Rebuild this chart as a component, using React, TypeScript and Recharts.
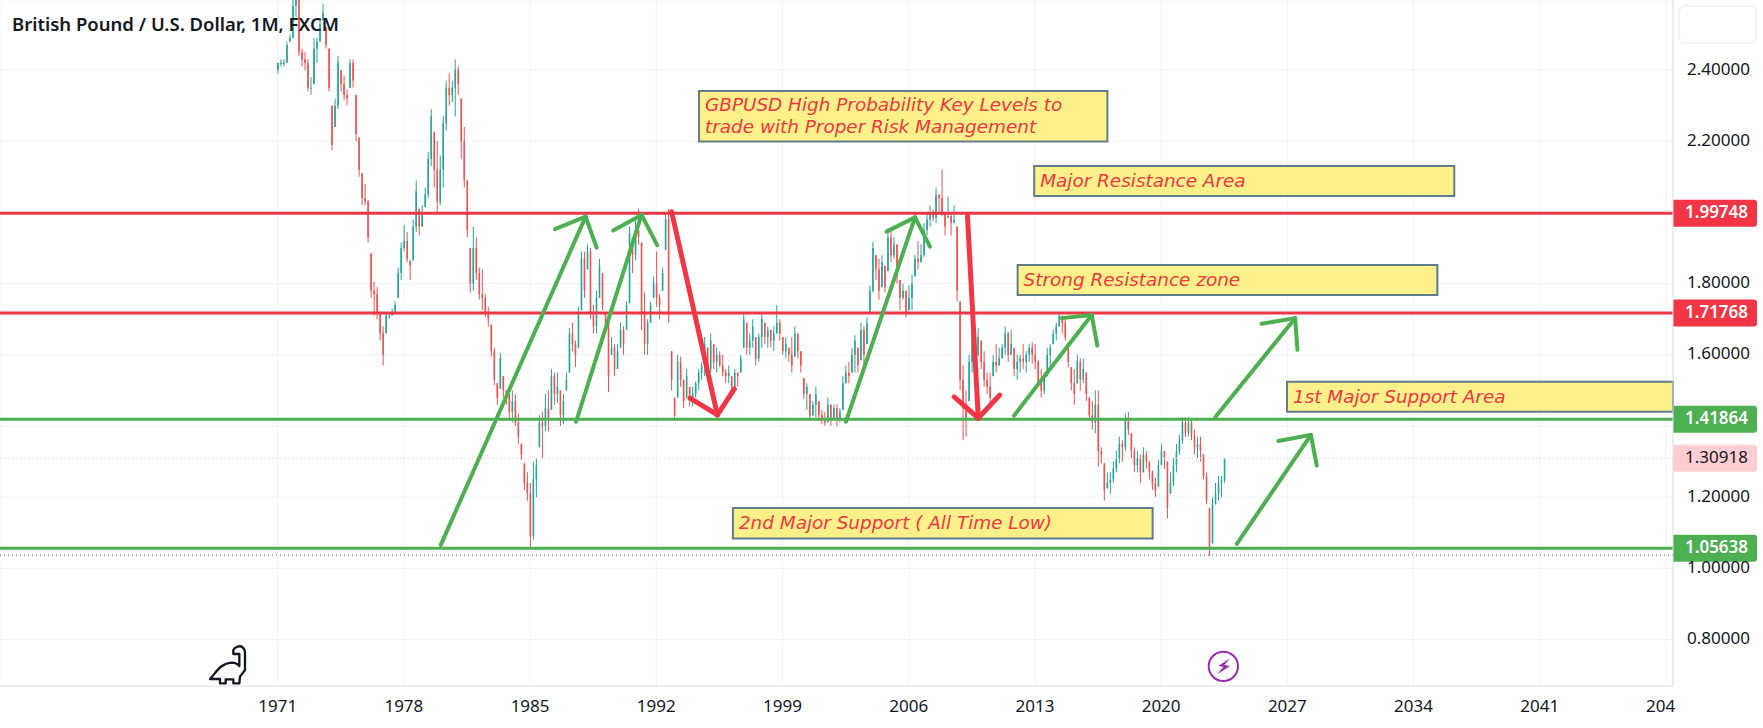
import React from 'react';
import {
  ComposedChart,
  Bar,
  XAxis,
  YAxis,
  CartesianGrid,
  ReferenceLine,
  ReferenceArea
} from 'recharts';

const FONT = '"Noto Sans", sans-serif';
const NOTE_FONT = '"DejaVu Sans", sans-serif';
const RED = '#f23645';
const GREEN = '#4caf50';

const firstYear = 1971;
const candlesPerYear = 6;

const highs = [
  2.42, 2.43, 2.43, 2.48, 2.5, 2.6,
  2.64, 2.62, 2.46, 2.45, 2.43, 2.38,
  2.49, 2.49, 2.54, 2.585, 2.52, 2.46,
  2.3, 2.32, 2.44, 2.4, 2.385, 2.345,
  2.43, 2.43, 2.33, 2.21, 2.11, 2.08,
  2.035, 1.885, 1.805, 1.79, 1.72, 1.68,
  1.72, 1.72, 1.73, 1.75, 1.845, 1.915,
  1.965, 1.945, 1.865, 1.98, 2.09, 2.01,
  2.02, 2.07, 2.17, 2.29, 2.225, 2.2,
  2.16, 2.27, 2.37, 2.39, 2.37, 2.43,
  2.41, 2.32, 2.24, 2.09, 1.9, 1.96,
  1.93, 1.845, 1.84, 1.77, 1.735, 1.685,
  1.62, 1.52, 1.605, 1.54, 1.5, 1.49,
  1.5, 1.49, 1.435, 1.35, 1.295, 1.27,
  1.24, 1.3, 1.31, 1.43, 1.44, 1.49,
  1.5, 1.56, 1.55, 1.55, 1.5, 1.49,
  1.55, 1.675, 1.69, 1.64, 1.735, 1.89,
  1.89, 1.91, 1.9, 1.74, 1.78, 1.87,
  1.83, 1.72, 1.69, 1.65, 1.63, 1.63,
  1.69, 1.68, 1.75, 1.96, 1.93, 1.98,
  2.01, 1.915, 1.775, 1.7, 1.75, 1.82,
  1.89, 1.77, 1.845, 2.0, 2.01, 1.61,
  1.48, 1.6, 1.595, 1.53, 1.56, 1.51,
  1.51, 1.525, 1.56, 1.58, 1.65, 1.62,
  1.66, 1.63, 1.62, 1.61, 1.6, 1.56,
  1.57, 1.54, 1.56, 1.55, 1.6, 1.72,
  1.69, 1.66, 1.7, 1.65, 1.66, 1.72,
  1.69, 1.68, 1.67, 1.68, 1.74, 1.7,
  1.65, 1.65, 1.62, 1.65, 1.68, 1.66,
  1.61, 1.535, 1.52, 1.49, 1.47, 1.51,
  1.47, 1.445, 1.44, 1.48, 1.46, 1.46,
  1.46, 1.45, 1.54, 1.57, 1.58, 1.62,
  1.655, 1.62, 1.69, 1.68, 1.705, 1.795,
  1.917, 1.88, 1.87, 1.88, 1.85, 1.955,
  1.95, 1.93, 1.91, 1.81, 1.8, 1.78,
  1.795, 1.825, 1.88, 1.92, 1.91, 1.97,
  1.995, 2.02, 2.01, 2.07, 2.05, 2.12,
  2.0, 2.045, 2.0, 2.02, 1.96, 1.75,
  1.57, 1.5, 1.6, 1.68, 1.68, 1.675,
  1.64, 1.61, 1.55, 1.55, 1.6, 1.63,
  1.62, 1.63, 1.68, 1.665, 1.67, 1.62,
  1.6, 1.6, 1.63, 1.61, 1.63, 1.635,
  1.63, 1.585, 1.56, 1.55, 1.62, 1.63,
  1.67, 1.69, 1.72, 1.71, 1.7, 1.62,
  1.565, 1.56, 1.6, 1.59, 1.59, 1.55,
  1.48, 1.47, 1.5, 1.5, 1.34, 1.295,
  1.27, 1.27, 1.3, 1.33, 1.37, 1.36,
  1.435, 1.44, 1.38, 1.34, 1.33, 1.32,
  1.34, 1.33, 1.3, 1.275, 1.255, 1.305,
  1.35, 1.33, 1.3, 1.27, 1.31, 1.35,
  1.375, 1.425, 1.425, 1.425, 1.42, 1.39,
  1.37, 1.37, 1.32, 1.27, 1.17, 1.2,
  1.24, 1.26, 1.26, 1.31
];

const lows = [
  2.39, 2.41, 2.41, 2.42, 2.48, 2.49,
  2.55, 2.44, 2.41, 2.4, 2.34, 2.33,
  2.36, 2.42, 2.48, 2.54, 2.46, 2.34,
  2.175, 2.24, 2.29, 2.34, 2.315, 2.3,
  2.35, 2.35, 2.2, 2.1, 2.02, 2.02,
  1.915, 1.76, 1.71, 1.7, 1.64, 1.57,
  1.66, 1.7, 1.71, 1.72, 1.76, 1.81,
  1.89, 1.86, 1.81, 1.865, 1.945, 1.935,
  1.96, 2.015, 2.04, 2.13, 2.07, 2.0,
  2.02, 2.07, 2.23, 2.3, 2.31, 2.27,
  2.33, 2.15, 2.07, 1.93, 1.775, 1.78,
  1.81, 1.755, 1.725, 1.705, 1.68, 1.595,
  1.515, 1.46, 1.505, 1.48, 1.46, 1.415,
  1.41, 1.4, 1.35, 1.305, 1.22, 1.19,
  1.056, 1.08, 1.2, 1.34, 1.31, 1.385,
  1.385, 1.445, 1.46, 1.465, 1.4, 1.405,
  1.5, 1.55, 1.61, 1.565, 1.62, 1.725,
  1.76, 1.84, 1.7, 1.66, 1.66, 1.76,
  1.725, 1.675, 1.495, 1.6, 1.54, 1.56,
  1.62, 1.6, 1.67, 1.745, 1.83, 1.865,
  1.91, 1.67, 1.6, 1.6, 1.69, 1.76,
  1.735, 1.7, 1.78, 1.895, 1.69, 1.5,
  1.415, 1.48, 1.51, 1.45, 1.48, 1.455,
  1.455, 1.48, 1.5, 1.53, 1.54, 1.55,
  1.55, 1.56, 1.55, 1.565, 1.54, 1.52,
  1.52, 1.495, 1.5, 1.51, 1.55, 1.62,
  1.6, 1.6, 1.62, 1.57, 1.58, 1.62,
  1.63, 1.62, 1.62, 1.61, 1.66, 1.64,
  1.6, 1.59, 1.58, 1.55, 1.595, 1.59,
  1.55, 1.475, 1.445, 1.415, 1.43, 1.425,
  1.415, 1.405, 1.4, 1.41, 1.4, 1.42,
  1.4, 1.41, 1.445, 1.52, 1.52, 1.55,
  1.55, 1.55, 1.585, 1.565, 1.63, 1.72,
  1.775, 1.81, 1.755, 1.79, 1.775, 1.835,
  1.86, 1.87, 1.8, 1.725, 1.755, 1.705,
  1.725, 1.725, 1.82, 1.84, 1.86, 1.875,
  1.935, 1.96, 1.975, 1.97, 2.0, 1.99,
  1.935, 1.985, 1.935, 1.97, 1.75, 1.5,
  1.36, 1.37, 1.47, 1.55, 1.58, 1.595,
  1.56, 1.51, 1.49, 1.455, 1.54, 1.55,
  1.57, 1.59, 1.6, 1.58, 1.6, 1.54,
  1.53, 1.55, 1.56, 1.55, 1.58, 1.575,
  1.56, 1.51, 1.48, 1.49, 1.54, 1.56,
  1.63, 1.64, 1.68, 1.66, 1.64, 1.565,
  1.5, 1.46, 1.52, 1.5, 1.52, 1.47,
  1.415, 1.39, 1.38, 1.285, 1.295, 1.19,
  1.225, 1.21, 1.24, 1.27, 1.295, 1.3,
  1.33, 1.375, 1.31, 1.27, 1.27, 1.24,
  1.27, 1.28, 1.25, 1.22, 1.2, 1.23,
  1.29, 1.28, 1.14, 1.21, 1.23, 1.27,
  1.32, 1.35, 1.37, 1.37, 1.36, 1.32,
  1.31, 1.3, 1.25, 1.18, 1.035, 1.07,
  1.18, 1.19, 1.2, 1.24
];

const closes = [
  2.42, 2.42, 2.42, 2.47, 2.49, 2.58,
  2.61, 2.45, 2.43, 2.42, 2.35, 2.35,
  2.46, 2.48, 2.53, 2.56, 2.47, 2.35,
  2.19, 2.3, 2.42, 2.36, 2.33, 2.32,
  2.42, 2.37, 2.22, 2.12, 2.04, 2.03,
  1.93, 1.78, 1.77, 1.72, 1.66, 1.6,
  1.71, 1.71, 1.72, 1.74, 1.83, 1.9,
  1.92, 1.87, 1.85, 1.96, 2.06, 1.96,
  2.0, 2.05, 2.15, 2.27, 2.12, 2.03,
  2.12, 2.25, 2.35, 2.33, 2.35, 2.4,
  2.36, 2.2, 2.09, 1.95, 1.8, 1.9,
  1.83, 1.77, 1.76, 1.72, 1.7, 1.61,
  1.53, 1.48, 1.59, 1.5, 1.49, 1.44,
  1.47, 1.41, 1.37, 1.32, 1.24, 1.21,
  1.09, 1.25, 1.29, 1.41, 1.4, 1.45,
  1.42, 1.54, 1.49, 1.51, 1.43, 1.47,
  1.53, 1.66, 1.63, 1.6, 1.72, 1.87,
  1.78, 1.89, 1.72, 1.68, 1.76, 1.85,
  1.74, 1.69, 1.54, 1.62, 1.56, 1.61,
  1.67, 1.63, 1.74, 1.94, 1.88, 1.95,
  1.93, 1.72, 1.63, 1.69, 1.74, 1.8,
  1.76, 1.74, 1.83, 1.98, 1.71, 1.53,
  1.43, 1.58, 1.53, 1.47, 1.54, 1.47,
  1.49, 1.52, 1.55, 1.57, 1.63, 1.56,
  1.64, 1.58, 1.6, 1.57, 1.55, 1.54,
  1.55, 1.51, 1.55, 1.54, 1.59, 1.7,
  1.62, 1.64, 1.68, 1.59, 1.65, 1.7,
  1.65, 1.67, 1.64, 1.66, 1.69, 1.66,
  1.61, 1.63, 1.6, 1.57, 1.66, 1.61,
  1.57, 1.49, 1.51, 1.43, 1.46, 1.49,
  1.43, 1.42, 1.41, 1.46, 1.42, 1.45,
  1.42, 1.44, 1.52, 1.55, 1.54, 1.6,
  1.64, 1.57, 1.67, 1.6, 1.69, 1.78,
  1.9, 1.84, 1.78, 1.86, 1.79, 1.93,
  1.88, 1.91, 1.82, 1.76, 1.78, 1.72,
  1.76, 1.8, 1.87, 1.86, 1.88, 1.95,
  1.98, 2.0, 1.985, 2.05, 2.04, 2.0,
  1.96, 1.99, 1.97, 1.98, 1.78, 1.53,
  1.45, 1.42, 1.58, 1.66, 1.6, 1.65,
  1.58, 1.53, 1.51, 1.48, 1.58, 1.57,
  1.59, 1.62, 1.66, 1.6, 1.63, 1.56,
  1.58, 1.59, 1.58, 1.6, 1.62, 1.6,
  1.58, 1.52, 1.5, 1.53, 1.6, 1.62,
  1.66, 1.68, 1.71, 1.69, 1.65, 1.58,
  1.52, 1.49, 1.58, 1.53, 1.56, 1.49,
  1.43, 1.41, 1.46, 1.33, 1.32, 1.22,
  1.24, 1.25, 1.28, 1.31, 1.35, 1.34,
  1.42, 1.39, 1.33, 1.29, 1.31, 1.27,
  1.32, 1.3, 1.27, 1.24, 1.22, 1.29,
  1.33, 1.31, 1.17, 1.24, 1.29, 1.33,
  1.36, 1.41, 1.38, 1.41, 1.37, 1.34,
  1.35, 1.33, 1.26, 1.19, 1.06, 1.18,
  1.21, 1.24, 1.25, 1.30918
];

const timeTicks = [1971, 1978, 1985, 1992, 1999, 2006, 2013, 2020, 2027, 2034, 2041, 2048];
const priceTicks = [0.8, 1.0, 1.2, 1.4, 1.6, 1.8, 2.0, 2.2, 2.4];
const hiddenPriceTicks = [1.4, 2.0]; // sit behind the level tags

const redLevels = [1.99748, 1.71768];
const greenLevels = [1.41864, 1.05638];
const lastPrice = 1.30918;
const lowPrice = 1.0376;

// startYear, startPrice, tipYear, tipPrice, leftYear, leftPrice, rightYear, rightPrice
const greenArrows = [
  [1980.05, 1.066, 1988.08, 1.988, 1986.38, 1.953, 1988.69, 1.901],
  [1987.55, 1.412, 1991.18, 1.993, 1989.61, 1.949, 1992.05, 1.908],
  [2002.52, 1.412, 2006.35, 1.986, 2004.77, 1.946, 2007.18, 1.904],
  [2011.84, 1.429, 2016.15, 1.712, 2014.48, 1.703, 2016.46, 1.626],
  [2023.01, 1.425, 2027.43, 1.703, 2025.57, 1.687, 2027.56, 1.614],
  [2024.2, 1.069, 2028.31, 1.375, 2026.5, 1.358, 2028.63, 1.289]
];
const redArrows = [
  [1992.85, 2.002, 1995.39, 1.431, 1993.87, 1.478, 1996.33, 1.504],
  [2009.26, 1.99, 2009.86, 1.422, 2008.52, 1.482, 2011.05, 1.487]
];

// x1, x2, y1, y2 in year / price, then the text lines
const noteBoxes = [
  { x1: 1994.37, x2: 2017.02, y1: 2.199, y2: 2.341, lines: ['GBPUSD High Probability Key Levels to', 'trade with Proper Risk Management'] },
  { x1: 2012.96, x2: 2036.26, y1: 2.046, y2: 2.13, lines: ['Major Resistance Area'] },
  { x1: 2012.04, x2: 2035.32, y1: 1.768, y2: 1.852, lines: ['Strong Resistance zone'] },
  { x1: 2026.98, x2: 2048.39, y1: 1.44, y2: 1.524, lines: ['1st Major Support Area'] },
  { x1: 1996.25, x2: 2019.53, y1: 1.084, y2: 1.17, lines: ['2nd Major Support ( All Time Low)'] }
];

const candles = closes.map((close, i) => ({
  time: firstYear + i / candlesPerYear,
  range: [lows[i], highs[i]],
  open: i > 0 ? closes[i - 1] : 2.4,
  high: highs[i],
  low: lows[i],
  close
}));

const Candle = (props: any) => {
  const { x, y, width, height, payload } = props;
  const perUnit = height / (payload.high - payload.low);
  const top = y + (payload.high - Math.max(payload.open, payload.close)) * perUnit;
  const bottom = y + (payload.high - Math.min(payload.open, payload.close)) * perUnit;
  const color = payload.close >= payload.open ? '#26a69a' : '#ef5350';
  return (
    <g>
      <rect x={x + width / 2 - 0.5} y={y} width={1} height={height} fill={color} />
      <rect x={x} y={Math.max(y, top)} width={width} height={Math.max(1, Math.min(bottom, y + height) - Math.max(y, top))} fill={color} />
    </g>
  );
};

const TimeTick = ({ x, y, payload }: any) => {
  const clipped = payload.value === 2048;
  return (
    <text
      x={clipped ? x - 20 : x}
      y={y + 13}
      textAnchor={clipped ? 'start' : 'middle'}
      dominantBaseline="middle"
      fontFamily={FONT}
      fontSize={17}
      fill="#131722"
    >
      {clipped ? '204' : payload.value}
    </text>
  );
};

const PriceTick = ({ x, y, payload }: any) => {
  if (hiddenPriceTicks.includes(payload.value)) return null;
  return (
    <text x={x + 6} y={y} dominantBaseline="middle" fontFamily={FONT} fontSize={17} fill="#131722">
      {payload.value.toFixed(5)}
    </text>
  );
};

const PriceTag = ({ viewBox, value, fill, color, weight }: any) => {
  const left = viewBox.x + viewBox.width;
  return (
    <g>
      <path
        d={`M${left} ${viewBox.y - 13.5}h81a3 3 0 0 1 3 3v21a3 3 0 0 1 -3 3h-81z`}
        fill={fill}
      />
      <text
        x={left + 12}
        y={viewBox.y}
        dominantBaseline="middle"
        fontFamily={FONT}
        fontSize={17}
        fontWeight={weight}
        fill={color}
      >
        {value.toFixed(5)}
      </text>
    </g>
  );
};

const BoxText = ({ viewBox, lines }: any) => {
  const lineHeight = 22;
  const firstY = viewBox.y + viewBox.height / 2 + 1 - ((lines.length - 1) * lineHeight) / 2;
  return (
    <text fontFamily={NOTE_FONT} fontSize={18.4} fontStyle="italic" fill={RED}>
      {lines.map((line: string, i: number) => (
        <tspan key={i} x={viewBox.x + 6} y={firstY + i * lineHeight} dominantBaseline="middle">
          {line}
        </tspan>
      ))}
    </text>
  );
};

const arrowSegments = (arrow: number[], color: string, width: number, key: string) => {
  const [sx, sy, tx, ty, lx, ly, rx, ry] = arrow;
  const ends = [[sx, sy], [lx, ly], [rx, ry]];
  return ends.map(([ex, ey], i) => (
    <ReferenceLine
      key={`${key}-${i}`}
      segment={[{ x: ex, y: ey }, { x: tx, y: ty }]}
      stroke={color}
      strokeWidth={width}
      strokeLinecap="round"
    />
  ));
};

export default function App() {
  return (
    <div style={{ position: 'absolute', left: 0, top: 0, width: 1763, height: 728, background: '#fff', overflow: 'hidden' }}>
      <ComposedChart width={1763} height={728} data={candles} margin={{ top: 0, right: 0, bottom: 0, left: 0 }}>
        <CartesianGrid stroke="#f0f3fa" strokeWidth={1} />
        <XAxis
          dataKey="time"
          type="number"
          domain={[1955.6, 2048.39]}
          ticks={timeTicks}
          allowDataOverflow
          height={42}
          tick={<TimeTick />}
          tickLine={false}
          axisLine={{ stroke: '#e0e3eb' }}
        />
        <YAxis
          orientation="right"
          type="number"
          domain={[0.6697, 2.5966]}
          ticks={priceTicks}
          allowDataOverflow
          width={90}
          tick={<PriceTick />}
          tickLine={false}
          axisLine={{ stroke: '#e0e3eb' }}
        />
        <Bar dataKey="range" barSize={1.6} shape={<Candle />} isAnimationActive={false} />

        <ReferenceLine y={lowPrice} stroke="#555" strokeDasharray="1 3" />
        <ReferenceLine
          y={lastPrice}
          stroke="#f7c6d0"
          strokeDasharray="1 3"
          label={<PriceTag value={lastPrice} fill="#ffcdd2" color="#131722" weight={400} />}
        />
        {redLevels.map((v) => (
          <ReferenceLine
            key={v}
            y={v}
            stroke={RED}
            strokeWidth={3}
            label={<PriceTag value={v} fill={RED} color="#fff" weight={600} />}
          />
        ))}
        {greenLevels.map((v) => (
          <ReferenceLine
            key={v}
            y={v}
            stroke={GREEN}
            strokeWidth={3}
            label={<PriceTag value={v} fill={GREEN} color="#fff" weight={600} />}
          />
        ))}

        {noteBoxes.map((box) => (
          <ReferenceArea
            key={box.lines[0]}
            x1={box.x1}
            x2={box.x2}
            y1={box.y1}
            y2={box.y2}
            fill="#fff18a"
            fillOpacity={1}
            stroke="#607d8b"
            strokeWidth={2}
            label={<BoxText lines={box.lines} />}
          />
        ))}

        {greenArrows.map((a, i) => arrowSegments(a, GREEN, 4, `g${i}`))}
        {redArrows.map((a, i) => arrowSegments(a, RED, 5, `r${i}`))}
      </ComposedChart>

      <div
        style={{
          position: 'absolute',
          left: 12,
          top: 11,
          fontFamily: FONT,
          fontSize: 18.5,
          fontWeight: 600,
          color: '#131722',
          whiteSpace: 'nowrap'
        }}
      >
        British Pound / U.S. Dollar, 1M, FXCM
      </div>

      {/* empty legend chip at the top of the price scale */}
      <div
        style={{
          position: 'absolute',
          left: 1678,
          top: 5,
          width: 75,
          height: 35,
          border: '2px solid #f0f3fa',
          borderRadius: 7
        }}
      />

      {/* dino */}
      <svg style={{ position: 'absolute', left: 190, top: 630 }} width={120} height={98} viewBox="0 0 360 294">
        <path
          d="M60 147 C80 125 92 100 125 98 C135 98 143 102 148 108 L148 72 L130 72 L130 60 C135 50 150 45 158 52 C165 58 165 65 165 72 L165 120 L150 140 L148 160 L130 160 L130 148 L107 148 L107 160 L90 160 L90 147 Z"
          fill="none"
          stroke="#131722"
          strokeWidth={7}
          strokeLinejoin="round"
        />
      </svg>

      {/* lightning badge */}
      <svg style={{ position: 'absolute', left: 1190, top: 640 }} width={120} height={88} viewBox="0 0 360 264">
        <circle cx={100} cy={79} r={44} fill="none" stroke="#9c27b0" strokeWidth={6} />
        <path d="M120 55 L85 78 L100 80 L82 103 L120 78 L103 75 Z" fill="#9c27b0" />
      </svg>
    </div>
  );
}
